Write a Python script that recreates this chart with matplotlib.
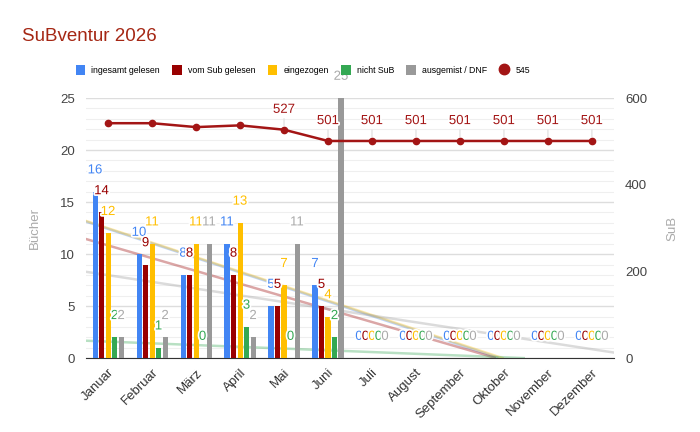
import numpy as np
import matplotlib.pyplot as plt
import matplotlib.patheffects as pe

plt.rcParams['font.family'] = ['Liberation Sans', 'DejaVu Sans']

# Daten
monate = ['Januar', 'Februar', 'März', 'April', 'Mai', 'Juni', 'Juli',
          'August', 'September', 'Oktober', 'November', 'Dezember']
ingesamt = [16, 10, 8, 11, 5, 7, 0, 0, 0, 0, 0, 0]
vom_sub = [14, 9, 8, 8, 5, 5, 0, 0, 0, 0, 0, 0]
eingezogen = [12, 11, 11, 13, 7, 4, 0, 0, 0, 0, 0, 0]
nicht_sub = [2, 1, 0, 3, 0, 2, 0, 0, 0, 0, 0, 0]
ausgemist = [2, 2, 11, 2, 11, 25, 0, 0, 0, 0, 0, 0]
sub_stand = [542, 542, 533, 537, 527, 501, 501, 501, 501, 501, 501, 501]
sub_labels_ab = 4  # Werte erst ab Mai beschriftet

serien = [('ingesamt gelesen', ingesamt, '#4285f4'),
          ('vom Sub gelesen', vom_sub, '#990000'),
          ('eingezogen', eingezogen, '#ffbf00'),
          ('nicht SuB', nicht_sub, '#34a853'),
          ('ausgemist / DNF', ausgemist, '#999999')]
linien_farbe = '#a31515'

fig = plt.figure(figsize=(7, 4.32), dpi=100)
ax = fig.add_axes([0.123, 0.171, 0.754, 0.602])
ax2 = ax.twinx()

x = np.arange(len(monate))
step = 0.148
width = 0.115
halo = [pe.withStroke(linewidth=2.5, foreground='white')]

for i, (name, werte, farbe) in enumerate(serien):
    pos = x + (i - 2) * step
    ax.bar(pos, werte, width, color=farbe, label=name, zorder=3)
    for px, v in zip(pos, werte):
        ax.annotate(str(v), (px, v), xytext=(0, 11), textcoords='offset points',
                    ha='center', va='bottom', fontsize=9.5,
                    color=farbe if farbe != '#999999' else '#aaaaaa',
                    zorder=6, path_effects=halo)

# Trendlinien (linear)
xt = np.linspace(-0.5, 11.5, 200)
for name, werte, farbe in serien:
    k, d = np.polyfit(x, werte, 1)
    yt = k * xt + d
    mask = yt >= 0
    ax.plot(xt[mask], yt[mask], color=farbe, alpha=0.35, lw=1.8, zorder=2)

ax.set_xlim(-0.5, 11.5)
ax.set_ylim(0, 25)
ax.set_yticks([0, 5, 10, 15, 20, 25])
ax.set_yticks(np.arange(0, 25, 1), minor=True)
ax.grid(axis='y', which='major', color='#dddddd', lw=1, zorder=0)
ax.grid(axis='y', which='minor', color='#efefef', lw=0.8, zorder=0)
ax.set_axisbelow(True)
ax.set_xticks(x)
ax.set_xticklabels(monate, rotation=45, ha='right', rotation_mode='anchor',
                   fontsize=9.5, color='#333333')
ax.tick_params(axis='x', length=0, pad=6)
ax.tick_params(axis='y', which='both', length=0, labelsize=9.5, labelcolor='#444444', pad=8)
ax.set_ylabel('Bücher', color='#aaaaaa', fontsize=9.5, labelpad=14)
for s in ['top', 'right', 'left']:
    ax.spines[s].set_visible(False)
ax.spines['bottom'].set_color('#333333')

# rechte Achse (SuB)
ax2.set_ylim(0, 600)
ax2.set_yticks([0, 200, 400, 600])
ax2.tick_params(axis='y', length=0, labelsize=9.5, labelcolor='#444444', pad=8)
ax2.set_ylabel('SuB', color='#aaaaaa', fontsize=9.5, labelpad=14)
for s in ax2.spines.values():
    s.set_visible(False)
ax.set_zorder(ax2.get_zorder() + 1)
ax.patch.set_visible(False)

# SuB Linie, in ax gezeichnet aber mit der Skala von ax2
ax.plot(x, sub_stand, color=linien_farbe, lw=1.8, marker='o', markersize=4.5,
        zorder=5, transform=ax2.transData, clip_on=False)
for i in range(sub_labels_ab, len(x)):
    ax.annotate(str(sub_stand[i]), (x[i], sub_stand[i]), xycoords=ax2.transData,
                xytext=(0, 10), textcoords='offset points', ha='center', va='bottom',
                fontsize=9.5, color=linien_farbe, zorder=6, path_effects=halo,
                arrowprops=dict(arrowstyle='-', color='#dddddd', lw=0.8,
                                shrinkA=0, shrinkB=3))

# Legende
h1, l1 = ax.get_legend_handles_labels()
h2 = [plt.Line2D([], [], color=linien_farbe, marker='o', ls='', markersize=7.5)]
fig.legend(h1 + h2, l1 + ['545'], loc='center left', bbox_to_anchor=(0.108, 0.838),
           ncol=6, frameon=False, fontsize=6.3, handlelength=1.1, handleheight=1.4,
           columnspacing=1.4, handletextpad=0.7, borderpad=0, borderaxespad=0)

fig.text(0.031, 0.915, 'SuBventur 2026', fontsize=13.5, color='#a52714', va='center')

fig.savefig('out.png', dpi=100)
